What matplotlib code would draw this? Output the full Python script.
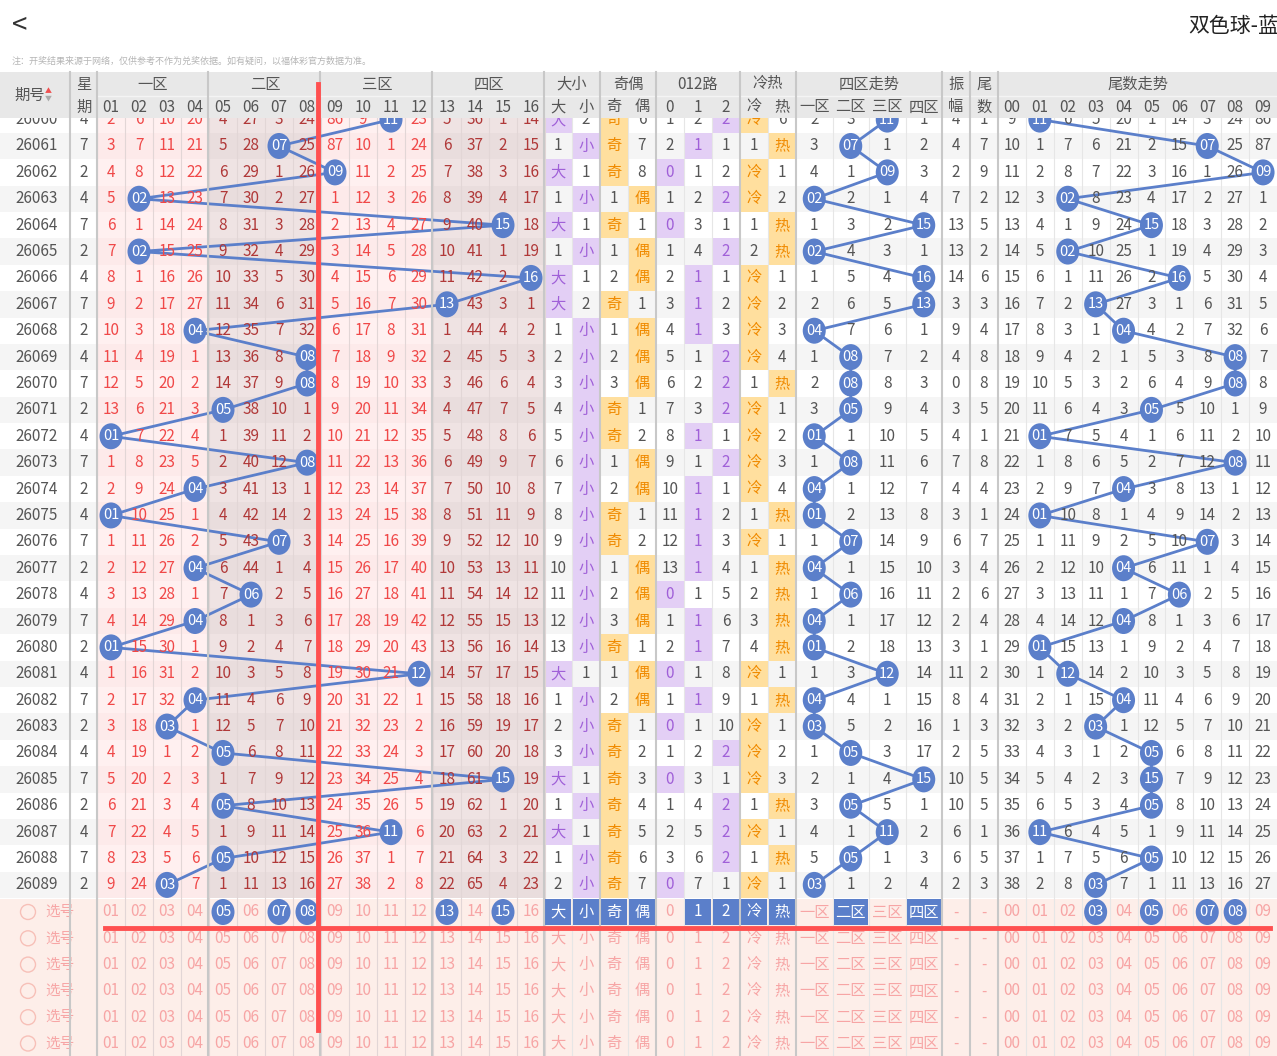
import numpy as np
import matplotlib.pyplot as plt
from matplotlib.patches import Rectangle, Ellipse

plt.rcParams['font.family'] = ['Noto Sans CJK SC', 'DejaVu Sans']

# ---- data ----
issues = list(range(26060, 26090))
weekday = [4, 7, 2, 4, 7, 2, 4, 7, 2, 4, 7, 2, 4, 7, 2, 4, 7, 2, 4, 7, 2, 4, 7, 2, 4, 7, 2, 4, 7, 2]
blue = [11, 7, 9, 2, 15, 2, 16, 13, 4, 8, 8, 5, 1, 8, 4, 1, 7, 4, 6, 4, 1, 12, 4, 3, 5, 15, 5, 11, 5, 3]
coldhot = ['冷', '热', '冷', '冷', '热', '热', '冷', '冷', '冷', '冷', '热', '冷', '冷', '冷', '冷', '热',
           '冷', '热', '热', '热', '热', '冷', '热', '冷', '冷', '冷', '热', '冷', '热', '冷']
# omission counts shown in the first (26060) row
init_blue = [2, 6, 10, 20, 4, 27, 3, 24, 86, 9, 0, 23, 5, 36, 1, 14]
init_bs = [0, 2]
init_oe = [0, 6]
init_012 = [1, 2, 0]
init_ch = [0, 6]
init_zone = [2, 3, 0, 1]
init_tail = [9, 0, 6, 5, 20, 1, 14, 3, 24, 86]
first_amp = 4

sel_blue = [5, 7, 8, 13, 15]
sel_keys = ['大', '小', '奇', '偶', '1', '2', '冷', '热', '二区', '四区']
sel_tail = [3, 5, 7, 8]

# ---- geometry ----
W, H = 1277, 1056
BLUE = '#5b7fca'
y0, rh = 119.6, 26.39
hdr1, hdr2, hdr3 = 72, 96, 118

bcol = [97 + 28 * i for i in range(17)]  # blue columns 01-16
groups = [
    ('大小', ['大', '小'], 544, 600),
    ('奇偶', ['奇', '偶'], 600, 656),
    ('012路', ['0', '1', '2'], 656, 740),
    ('冷热', ['冷', '热'], 740, 796),
    ('四区走势', ['一区', '二区', '三区', '四区'], 796, 942),
]
tail_x0 = 998
tw = 27.9

fig = plt.figure(figsize=(W / 100, H / 100), dpi=100)
ax = fig.add_axes([0, 0, 1, 1])
ax.set_xlim(0, W)
ax.set_ylim(H, 0)
ax.axis('off')


def rect(x, y, w, h, c, z=1, **kw):
    ax.add_patch(Rectangle((x, y), w, h, facecolor=c, edgecolor='none', zorder=z, **kw))


def txt(x, y, s, c='#555555', fs=10.5, z=5, **kw):
    ax.text(x, y, s, color=c, fontsize=fs, ha='center', va='center', zorder=z, **kw)


def circ(x, y, s, z=6):
    ax.add_patch(Ellipse((x, y), 23, 26, facecolor=BLUE, edgecolor='none', zorder=z))
    txt(x, y, s, 'white', 10.5, z + 1)


def omissions(init, hits):
    rows = [list(init)]
    for h in hits[1:]:
        prev = rows[-1]
        rows.append([0 if i == h else prev[i] + 1 for i in range(len(prev))])
    return rows


n = len(issues)
hit_blue = [b - 1 for b in blue]
hit_bs = [0 if b >= 9 else 1 for b in blue]
hit_oe = [0 if b % 2 else 1 for b in blue]
hit_012 = [b % 3 for b in blue]
hit_ch = [0 if c == '冷' else 1 for c in coldhot]
hit_zone = [(b - 1) // 4 for b in blue]
hit_tail = [b % 10 for b in blue]
amps = [first_amp] + [abs(blue[i] - blue[i - 1]) for i in range(1, n)]

om_blue = omissions(init_blue, hit_blue)
om_groups = [omissions(init_bs, hit_bs), omissions(init_oe, hit_oe), omissions(init_012, hit_012),
             omissions(init_ch, hit_ch), omissions(init_zone, hit_zone)]
om_tail = omissions(init_tail, hit_tail)
group_hits = [hit_bs, hit_oe, hit_012, hit_ch, hit_zone]

# ---- data rows ----
for r in range(n):
    yc = y0 + r * rh
    top = yc - rh / 2
    rowbg = '#f5f5f5' if r % 2 == 1 else 'white'
    rect(0, top, W, rh, rowbg, 0)
    txt(37, yc, str(issues[r]), '#555555', 11)
    txt(84, yc, str(weekday[r]), '#555555', 11)
    for i in range(16):
        zone = i // 4
        light = zone % 2 == 0
        bg = ('#fff0f0' if r % 2 == 0 else '#fdeaea') if light else ('#efe3e3' if r % 2 == 0 else '#e9dddd')
        rect(bcol[i], top, 28, rh, bg, 0.5)
        if i != hit_blue[r]:
            txt(bcol[i] + 14, yc, str(om_blue[r][i]), '#f04848' if light else '#b03838', 11)
    for g, (name, keys, gx0, gx1) in enumerate(groups):
        cw = (gx1 - gx0) / len(keys)
        for k, key in enumerate(keys):
            cx = gx0 + cw * (k + 0.5)
            if k == group_hits[g][r]:
                if g == 4:
                    continue
                purple = g in (0, 2)
                rect(gx0 + cw * k, top, cw, rh, '#e3cff5' if purple else '#ffdf9e', 0.5)
                txt(cx, yc, key, '#a060d8' if purple else '#f08a00', 11)
            else:
                txt(cx, yc, str(om_groups[g][r][k]), '#555555', 11)
    txt(956, yc, str(amps[r]), '#555555', 11)
    txt(984, yc, str(hit_tail[r]), '#555555', 11)
    for t in range(10):
        if t != hit_tail[r]:
            txt(tail_x0 + tw * (t + 0.5), yc, str(om_tail[r][t]), '#555555', 11)

# trend lines and circles
ys = [y0 + r * rh for r in range(n)]
bx = [bcol[h] + 14 for h in hit_blue]
zw = (942 - 796) / 4
zx = [796 + zw * (h + 0.5) for h in hit_zone]
tx = [tail_x0 + tw * (h + 0.5) for h in hit_tail]
for xs, labels in [(bx, ['%02d' % b for b in blue]),
                   (zx, ['%02d' % b for b in blue]),
                   (tx, ['%02d' % b for b in blue])]:
    ax.plot(xs, ys, color=BLUE, lw=2, zorder=4)
    for x, y, s in zip(xs, ys, labels):
        circ(x, y, s)

# ---- selection rows ----
sel_y = [912 + 26.3 * i for i in range(6)]
rect(0, sel_y[0] - rh / 2, W, H - sel_y[0] + rh / 2, '#fdeee9', 0.2)
pink = '#f7a5a5'
for j, yc in enumerate(sel_y):
    ax.add_patch(Ellipse((28, yc), 15, 15, facecolor='none', edgecolor='#f7c0b8', lw=1, zorder=5))
    txt(60, yc, '选号', pink, 10.5)
    for i in range(16):
        cx = bcol[i] + 14
        if j == 0 and (i + 1) in sel_blue:
            circ(cx, yc, '%02d' % (i + 1))
        else:
            txt(cx, yc, '%02d' % (i + 1), pink, 11)
    for g, (name, keys, gx0, gx1) in enumerate(groups):
        cw = (gx1 - gx0) / len(keys)
        for k, key in enumerate(keys):
            cx = gx0 + cw * (k + 0.5)
            if j == 0 and key in sel_keys:
                rect(gx0 + cw * k + 1, yc - rh / 2, cw - 2, rh, BLUE, 3)
                txt(cx, yc, key, 'white', 11)
            else:
                txt(cx, yc, key, pink, 11)
    txt(956, yc, '-', pink, 11)
    txt(984, yc, '-', pink, 11)
    for t in range(10):
        cx = tail_x0 + tw * (t + 0.5)
        if j == 0 and t in sel_tail:
            circ(cx, yc, '%02d' % t)
        else:
            txt(cx, yc, '%02d' % t, pink, 11)

# ---- grid lines ----
for i in range(17):
    ax.plot([bcol[i]] * 2, [hdr2, H], color='#e2d6d6', lw=0.8, zorder=2)
for gx in [70, 97, 208, 320, 432, 544, 600, 656, 740, 796, 942, 970, 998]:
    ax.plot([gx, gx], [hdr1, H], color='#c8c8c8', lw=1.5, zorder=9)
for g, (name, keys, gx0, gx1) in enumerate(groups):
    cw = (gx1 - gx0) / len(keys)
    for k in range(1, len(keys)):
        ax.plot([gx0 + cw * k] * 2, [hdr2, H], color='#e6e6e6', lw=0.8, zorder=2)
for t in range(1, 10):
    ax.plot([tail_x0 + tw * t] * 2, [hdr2, H], color='#e6e6e6', lw=0.8, zorder=2)

# ---- header ----
rect(0, hdr1, W, hdr3 - hdr1, '#e8e8e8', 8)
ax.plot([97, W], [hdr2, hdr2], color='#f4f4f4', lw=1, zorder=8.5)
hc = '#555555'
txt(30, 95, '期号', hc, 11, 10)
txt(48, 91, '▲', '#f05050', 5, 10)
txt(48, 99, '▼', '#aaaaaa', 5, 10)
txt(84, 84, '星', hc, 11, 10)
txt(84, 107, '期', hc, 11, 10)
for z, name in enumerate(['一区', '二区', '三区', '四区']):
    txt((bcol[4 * z] + bcol[4 * z + 4]) / 2, 84, name, hc, 11, 10)
for i in range(16):
    txt(bcol[i] + 14, 107, '%02d' % (i + 1), hc, 11, 10)
for name, keys, gx0, gx1 in groups:
    txt((gx0 + gx1) / 2, 84, name, hc, 11, 10)
    cw = (gx1 - gx0) / len(keys)
    for k, key in enumerate(keys):
        txt(gx0 + cw * (k + 0.5), 107, key, hc, 11, 10)
txt(956, 84, '振', hc, 11, 10)
txt(956, 107, '幅', hc, 11, 10)
txt(984, 84, '尾', hc, 11, 10)
txt(984, 107, '数', hc, 11, 10)
txt(1138, 84, '尾数走势', hc, 11, 10)
for t in range(10):
    txt(tail_x0 + tw * (t + 0.5), 107, '%02d' % t, hc, 11, 10)

# top bar
rect(0, 0, W, hdr1, 'white', 8)
ax.text(12, 25, '<', fontsize=20, color='#333333', va='center', ha='left', zorder=10)
ax.text(1188, 26, '双色球-蓝', fontsize=15, color='#222222', va='center', ha='left', zorder=10)
ax.text(12, 61, '注：开奖结果来源于网络，仅供参考不作为兑奖依据。如有疑问，以福体彩官方数据为准。',
        fontsize=6.5, color='#b5b5b5', va='center', ha='left', zorder=10)

# red marker lines
ax.plot([318, 318], [84, 1030], color='#ff5050', lw=3.5, zorder=12)
ax.plot([105, 1270], [928, 928], color='#ff5050', lw=3.5, zorder=12)

fig.savefig('out.png', dpi=100)
